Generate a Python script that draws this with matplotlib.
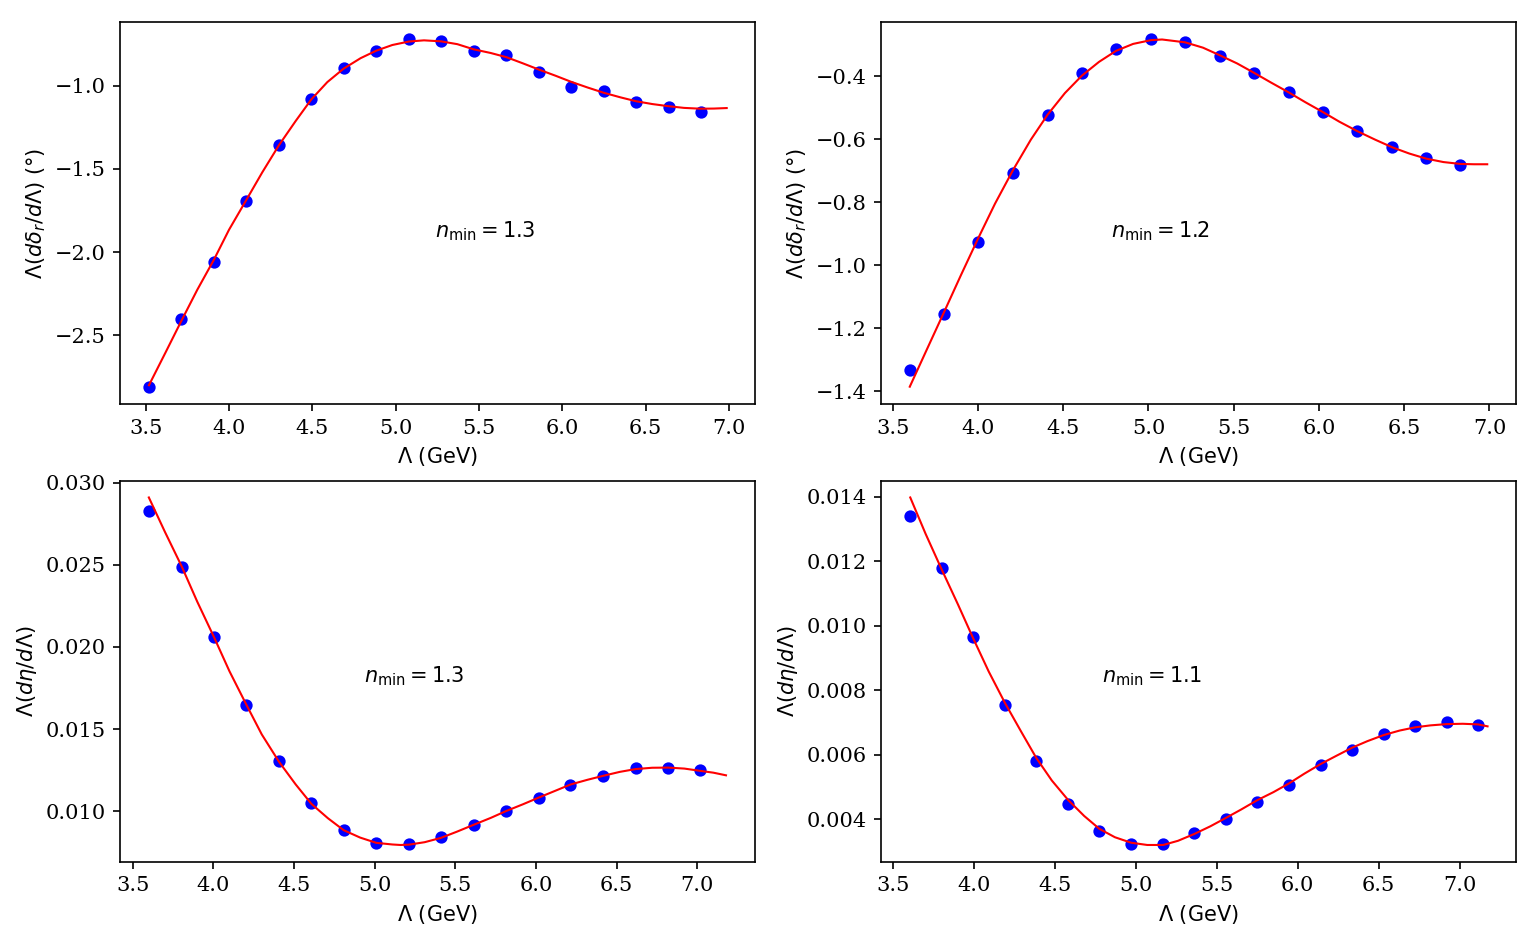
import matplotlib
matplotlib.use("Agg")
import matplotlib.pyplot as plt

# ---- top left: Lambda d(delta_r)/dLambda, n_min = 1.3
tl_x = [3.52, 3.712, 3.91, 4.102, 4.30, 4.494, 4.688, 4.884, 5.08, 5.272,
        5.468, 5.664, 5.86, 6.052, 6.248, 6.442, 6.638, 6.83]
tl_y = [-2.809, -2.402, -2.058, -1.693, -1.356, -1.078, -0.895, -0.790, -0.719, -0.733,
        -0.793, -0.815, -0.916, -1.006, -1.030, -1.100, -1.128, -1.160]
tl_fx = [3.52, 3.62, 3.716, 3.81, 3.91, 4.00, 4.102, 4.20, 4.30, 4.40, 4.494, 4.59,
         4.688, 4.79, 4.884, 4.98, 5.08, 5.17, 5.272, 5.37, 5.468, 5.57, 5.664, 5.76,
         5.86, 5.96, 6.052, 6.15, 6.248, 6.35, 6.442, 6.54, 6.638, 6.73, 6.83, 6.91, 6.986]
tl_fy = [-2.800, -2.602, -2.410, -2.226, -2.045, -1.866, -1.690, -1.520, -1.357, -1.212, -1.082, -0.978,
         -0.897, -0.834, -0.789, -0.755, -0.734, -0.727, -0.733, -0.750, -0.781, -0.803, -0.828, -0.864,
         -0.903, -0.940, -0.976, -1.010, -1.042, -1.070, -1.093, -1.110, -1.123, -1.133, -1.138, -1.137, -1.134]

# ---- top right: n_min = 1.2
tr_x = [3.603, 3.803, 4.003, 4.206, 4.408, 4.609, 4.81, 5.015, 5.215, 5.418,
        5.62, 5.823, 6.022, 6.225, 6.429, 6.628, 6.83]
tr_y = [-1.333, -1.156, -0.926, -0.708, -0.525, -0.391, -0.314, -0.283, -0.291, -0.336,
        -0.389, -0.450, -0.514, -0.575, -0.624, -0.660, -0.682]
tr_fx = [3.60, 3.70, 3.803, 3.90, 4.003, 4.10, 4.206, 4.31, 4.408, 4.51, 4.609, 4.71,
         4.81, 4.91, 5.015, 5.08, 5.215, 5.32, 5.418, 5.52, 5.62, 5.72, 5.823, 5.92,
         6.022, 6.12, 6.225, 6.33, 6.429, 6.53, 6.628, 6.73, 6.83, 6.91, 6.987]
tr_fy = [-1.386, -1.268, -1.147, -1.032, -0.913, -0.805, -0.698, -0.602, -0.523, -0.454, -0.399, -0.355,
         -0.320, -0.298, -0.286, -0.284, -0.293, -0.310, -0.334, -0.360, -0.390, -0.421, -0.452, -0.483,
         -0.514, -0.545, -0.575, -0.602, -0.626, -0.646, -0.662, -0.673, -0.679, -0.680, -0.680]

# ---- bottom left: Lambda d(eta)/dLambda, n_min = 1.3
bl_x = [3.601, 3.804, 4.004, 4.204, 4.408, 4.608, 4.808, 5.01, 5.213, 5.41,
        5.614, 5.816, 6.016, 6.214, 6.417, 6.618, 6.82, 7.019]
bl_y = [0.02828, 0.02487, 0.02063, 0.01649, 0.01306, 0.01052, 0.00888, 0.00807, 0.00801, 0.00842,
        0.00915, 0.01002, 0.01079, 0.01160, 0.01217, 0.01262, 0.01265, 0.01251]
bl_fx = [3.60, 3.70, 3.804, 3.90, 4.004, 4.10, 4.204, 4.30, 4.408, 4.51, 4.608, 4.71,
         4.808, 4.91, 5.01, 5.11, 5.16, 5.213, 5.31, 5.41, 5.51, 5.614, 5.72, 5.816,
         5.92, 6.016, 6.12, 6.214, 6.32, 6.417, 6.52, 6.618, 6.72, 6.82, 6.92, 7.019, 7.10, 7.178]
bl_fy = [0.02910, 0.02700, 0.02490, 0.02276, 0.02060, 0.01852, 0.01650, 0.01468, 0.01300, 0.01164, 0.01045, 0.00958,
         0.00885, 0.00840, 0.00808, 0.00798, 0.00795, 0.00797, 0.00812, 0.00838, 0.00876, 0.00918, 0.00960, 0.01002,
         0.01043, 0.01083, 0.01125, 0.01163, 0.01192, 0.01216, 0.01240, 0.01257, 0.01265, 0.01266, 0.01260, 0.01246, 0.01235, 0.01219]

# ---- bottom right: n_min = 1.1
br_x = [3.605, 3.799, 3.995, 4.191, 4.384, 4.58, 4.774, 4.97, 5.168, 5.36,
        5.556, 5.75, 5.946, 6.141, 6.337, 6.531, 6.726, 6.922, 7.115]
br_y = [0.01340, 0.01179, 0.00966, 0.00755, 0.00579, 0.00446, 0.00363, 0.00323, 0.00322, 0.00356,
        0.00400, 0.00454, 0.00506, 0.00569, 0.00616, 0.00664, 0.00690, 0.00700, 0.00692]
br_fx = [3.605, 3.70, 3.799, 3.90, 3.995, 4.09, 4.191, 4.29, 4.384, 4.48, 4.58, 4.68,
         4.774, 4.87, 4.97, 5.07, 5.168, 5.26, 5.36, 5.46, 5.556, 5.65, 5.75, 5.85,
         5.946, 6.04, 6.141, 6.24, 6.337, 6.43, 6.531, 6.63, 6.726, 6.82, 6.922, 7.02, 7.115, 7.173]
br_fy = [0.01398, 0.01285, 0.01175, 0.01066, 0.00960, 0.00858, 0.00760, 0.00672, 0.00590, 0.00520, 0.00460, 0.00410,
         0.00370, 0.00344, 0.00327, 0.00320, 0.00320, 0.00333, 0.00354, 0.00378, 0.00404, 0.00430, 0.00459, 0.00484,
         0.00511, 0.00541, 0.00571, 0.00597, 0.00622, 0.00642, 0.00661, 0.00675, 0.00685, 0.00691, 0.00695, 0.00696, 0.00694, 0.00688]

ylab_delta = r"$\Lambda(d\delta_r/d\Lambda)$ (°)"
ylab_eta = r"$\Lambda(d\eta/d\Lambda)$"
xlab = r"$\Lambda$ (GeV)"

panels = [
    # (rect, xs, ys, fx, fy, ylabel, note, note_pos, xlim, ylim)
    ([0.0780, 0.5711, 0.4127, 0.4055], tl_x, tl_y, tl_fx, tl_fy, ylab_delta,
     r"$n_{\rm min} = 1.3$", (0.496, 0.435), (3.346, 7.154), (-2.913, -0.617)),
    ([0.5728, 0.5711, 0.4127, 0.4055], tr_x, tr_y, tr_fx, tr_fy, ylab_delta,
     r"$n_{\rm min} = 1.2$", (0.362, 0.435), (3.431, 7.154), (-1.441, -0.2286)),
    ([0.0780, 0.0852, 0.4127, 0.4045], bl_x, bl_y, bl_fx, bl_fy, ylab_eta,
     r"$n_{\rm min} = 1.3$", (0.384, 0.470), (3.421, 7.356), (0.00693, 0.03012)),
    ([0.5728, 0.0852, 0.4127, 0.4045], br_x, br_y, br_fx, br_fy, ylab_eta,
     r"$n_{\rm min} = 1.1$", (0.348, 0.470), (3.424, 7.347), (0.00268, 0.0145)),
]

fig = plt.figure(figsize=(1538 / 150, 942 / 150), dpi=150)

for rect, xs, ys, fx, fy, ylab, note, npos, xl, yl in panels:
    ax = fig.add_axes(rect)
    ax.scatter(xs, ys, s=24, color="blue", zorder=2)
    ax.plot(fx, fy, color="red", lw=1.0, zorder=3)
    ax.set_xlim(*xl)
    ax.set_ylim(*yl)
    ax.set_xlabel(xlab, fontsize=10, labelpad=3.5)
    ax.set_ylabel(ylab, fontsize=10, labelpad=3)
    ax.text(npos[0], npos[1], note, transform=ax.transAxes, fontsize=10,
            ha="left", va="baseline")
    for lab in ax.get_xticklabels() + ax.get_yticklabels():
        lab.set_fontfamily("DejaVu Serif")
    ax.tick_params(labelsize=10)

fig.savefig("out.png", dpi=150)
